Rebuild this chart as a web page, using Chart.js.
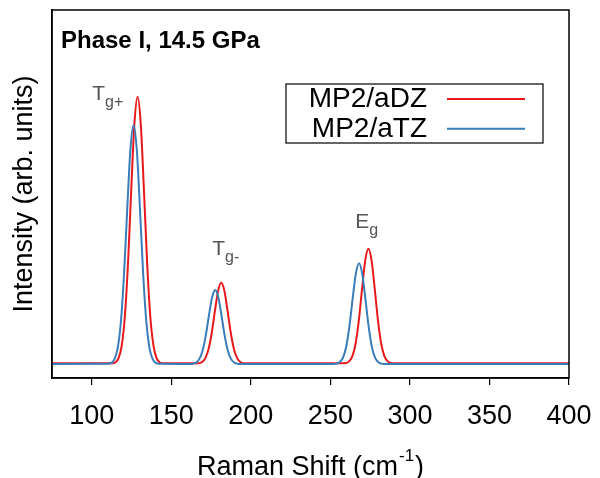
<!DOCTYPE html>
<html>
<head>
<meta charset="utf-8">
<script src="https://cdn.jsdelivr.net/npm/chart.js@4"></script>
<style>
html,body{margin:0;padding:0;background:#fff;}
#wrap{width:600px;height:478px;position:relative;}
</style>
</head>
<body>
<div id="wrap"><canvas id="c" width="600" height="478"></canvas></div>
<script>
// ---- data ----
const seriesLabels = ['MP2/aDZ', 'MP2/aTZ'];
const seriesColors = ['#e8191c', '#3a7dbb'];

const redX = [75,
  112.8,114.8,116.8,118.8,120.8,122.8,124.8,126.8,128.8,130.8,132.8,134.8,136.8,138.8,140.8,142.8,144.8,
  165.4,167.4,169.4,171.4,173.4,175.4,177.4,179.4,181.4,183.4,185.4,187.4,189.4,191.4,193.4,195.4,197.4,
  257.9,259.9,261.9,263.9,265.9,267.9,269.9,271.9,273.9,275.9,277.9,279.9,281.9,283.9,285.9,287.9,289.9,
  400];
const redY = [0.003,
  0.003,0.006,0.021,0.068,0.178,0.379,0.650,0.898,1.000,0.898,0.650,0.379,0.178,0.068,0.021,0.006,0.003,
  0.003,0.003,0.0075,0.0222,0.0555,0.1162,0.198,0.2729,0.304,0.2729,0.198,0.1162,0.0555,0.0222,0.0075,0.003,0.003,
  0.003,0.004,0.0108,0.0307,0.0779,0.1642,0.2804,0.3868,0.431,0.3868,0.2804,0.1642,0.0779,0.0307,0.0108,0.004,0.003,
  0.003];

const blueX = [75,
  110.3,112.3,114.3,116.3,118.3,120.3,122.3,124.3,126.3,128.3,130.3,132.3,134.3,136.3,138.3,140.3,142.3,
  161.6,163.6,165.6,167.6,169.6,171.6,173.6,175.6,177.6,179.6,181.6,183.6,185.6,187.6,189.6,191.6,193.6,
  252,254,256,258,260,262,264,266,268,270,272,274,276,278,280,282,284,
  400];
const blueY = [0,
  0.0009,0.0045,0.0182,0.0599,0.1582,0.3379,0.5802,0.8019,0.894,0.8019,0.5802,0.3379,0.1582,0.0599,0.0182,0.0045,0.0009,
  0.0003,0.0014,0.0057,0.0186,0.049,0.1047,0.1798,0.2485,0.277,0.2485,0.1798,0.1047,0.049,0.0186,0.0057,0.0014,0.0003,
  0.0004,0.0019,0.0077,0.0253,0.0667,0.1425,0.2447,0.3382,0.377,0.3382,0.2447,0.1425,0.0667,0.0253,0.0077,0.0019,0.0004,
  0];

const xTickValues = [100, 150, 200, 250, 300, 350, 400];

const annMain = ['T', 'T', 'E'];
const annSub  = ['g+', 'g-', 'g'];
const annX    = [100.3, 175.7, 265.7];
const annY    = [0.988, 0.408, 0.509];

const panelTitle = 'Phase I, 14.5 GPa';
const xTitle = 'Raman Shift (cm';
const xTitleSup = '-1';
const yTitle = 'Intensity (arb. units)';

// ---- chart ----
const FONT = "'Liberation Sans', Arial, Helvetica, sans-serif";

function pts(xs, ys){ return xs.map((x,i)=>({x:x, y:ys[i]})); }

const framePlugin = {
  id: 'frame',
  afterDraw(chart){
    const ctx = chart.ctx, a = chart.chartArea;
    const xs = chart.scales.x, ys = chart.scales.y;
    ctx.save();
    // frame
    ctx.strokeStyle = '#000'; ctx.lineWidth = 1.5;
    ctx.strokeRect(a.left, a.top, a.right - a.left, a.bottom - a.top);
    // panel title
    ctx.fillStyle = '#000';
    ctx.font = "bold 24px " + FONT;
    ctx.textAlign = 'left'; ctx.textBaseline = 'alphabetic';
    ctx.fillText(panelTitle, a.left + 9, a.top + 38);
    // annotations
    ctx.fillStyle = '#555';
    for (let i = 0; i < annMain.length; i++){
      const px = xs.getPixelForValue(annX[i]);
      const py = ys.getPixelForValue(annY[i]);
      ctx.font = "21px " + FONT;
      ctx.textAlign = 'left';
      ctx.fillText(annMain[i], px, py);
      const w = ctx.measureText(annMain[i]).width;
      ctx.font = "16px " + FONT;
      ctx.fillText(annSub[i], px + w, py + 7);
    }
    // legend box
    const lx = a.left + 234, ly = a.top + 74, lw = 257, lh = 59;
    ctx.strokeStyle = '#000'; ctx.lineWidth = 1.2;
    ctx.strokeRect(lx, ly, lw, lh);
    ctx.font = "28px " + FONT;
    ctx.textAlign = 'right';
    chart.data.datasets.forEach((ds, i) => {
      const base = ly + 23 + i * 29.7;
      ctx.fillStyle = '#000';
      ctx.fillText(ds.label, lx + 141, base);
      ctx.strokeStyle = ds.borderColor; ctx.lineWidth = 2;
      ctx.beginPath();
      ctx.moveTo(lx + 161, base - 8);
      ctx.lineTo(lx + 239, base - 8);
      ctx.stroke();
    });
    // x axis title with superscript
    ctx.fillStyle = '#000';
    ctx.textAlign = 'left';
    ctx.font = "27px " + FONT;
    const w1 = ctx.measureText(xTitle).width;
    ctx.font = "17px " + FONT;
    const w2 = ctx.measureText(xTitleSup).width;
    ctx.font = "27px " + FONT;
    const w3 = ctx.measureText(')').width;
    const total = w1 + w2 + w3;
    const cx = (a.left + a.right) / 2 - 1;
    const bx = cx - total / 2, by = 475;
    ctx.fillText(xTitle, bx, by);
    ctx.font = "17px " + FONT;
    ctx.fillText(xTitleSup, bx + w1 + 1, by - 14);
    ctx.font = "27px " + FONT;
    ctx.fillText(')', bx + w1 + w2 + 2, by);
    ctx.restore();
  }
};

new Chart(document.getElementById('c'), {
  type: 'scatter',
  data: {
    datasets: [
      { label: seriesLabels[0], data: pts(redX, redY), borderColor: seriesColors[0], backgroundColor: seriesColors[0],
        showLine: true, pointRadius: 0, borderWidth: 2, cubicInterpolationMode: 'monotone', order: 1 },
      { label: seriesLabels[1], data: pts(blueX, blueY), borderColor: seriesColors[1], backgroundColor: seriesColors[1],
        showLine: true, pointRadius: 0, borderWidth: 2, cubicInterpolationMode: 'monotone', order: 0 }
    ]
  },
  options: {
    responsive: false,
    animation: false,
    devicePixelRatio: 1,
    layout: { padding: { top: 10, right: 31, left: 0, bottom: 0 } },
    plugins: { legend: { display: false }, tooltip: { enabled: false }, title: { display: false } },
    scales: {
      x: {
        type: 'linear', min: 75, max: 400,
        afterBuildTicks: s => { s.ticks = xTickValues.map(v => ({ value: v })); },
        afterFit: s => { s.height = 100; s.paddingLeft = 0; s.paddingRight = 0; },
        grid: { display: true, drawOnChartArea: false, drawTicks: true, tickLength: 7, color: '#000', lineWidth: 1.2 },
        border: { display: true, color: '#000', width: 1.5 },
        ticks: { color: '#000', font: { family: FONT, size: 27 }, padding: 15, maxRotation: 0 },
        title: { display: false }
      },
      y: {
        min: -0.052, max: 1.324,
        afterFit: s => { s.width = 52; },
        grid: { display: false },
        border: { display: true, color: '#000', width: 1.5 },
        ticks: { display: false },
        title: { display: true, text: yTitle, color: '#000', font: { family: FONT, size: 27 }, padding: { top: 8, bottom: 0 } }
      }
    }
  },
  plugins: [framePlugin]
});
</script>
</body>
</html>
